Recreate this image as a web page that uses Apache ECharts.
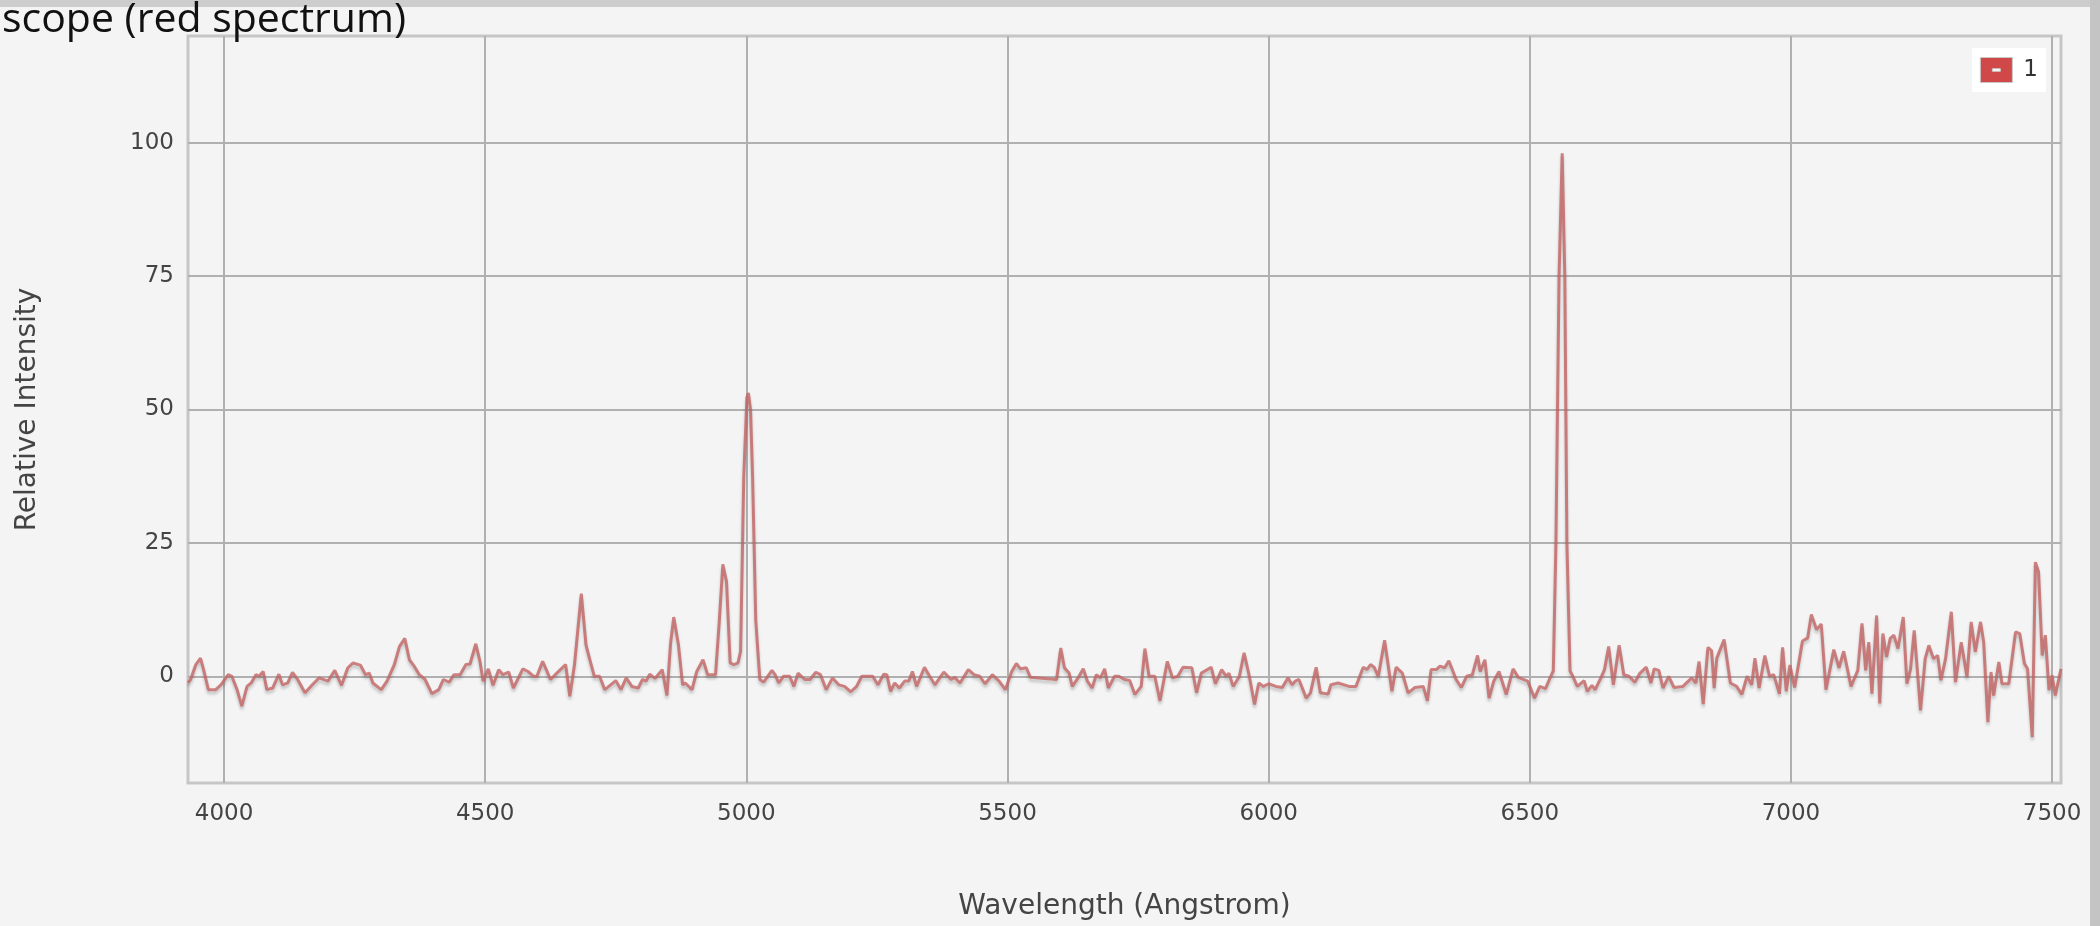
<!DOCTYPE html>
<html>
<head>
<meta charset="utf-8">
<script src="https://cdn.jsdelivr.net/npm/echarts@6/dist/echarts.min.js"></script>
<style>
  html, body { margin: 0; padding: 0; background: #f4f4f4; }
  #chart { width: 2100px; height: 926px; }
</style>
</head>
<body>
<div id="chart"></div>
<script>
// ---- data ----
const titleText = 'scope (red spectrum)';
const seriesName = '1';
const xTicks = [4000, 4500, 5000, 5500, 6000, 6500, 7000, 7500];
const yTicks = [0, 25, 50, 75, 100];
const xRange = [3931, 7517];
const yRange = [-20, 120];

const wavelength = [
  3931, 3936, 3946, 3955, 3961, 3970, 3984, 3994, 4008, 4015, 4025, 4034, 4044, 4052, 4061, 4067, 4075, 4082, 4093, 4105,
  4112, 4122, 4131, 4141, 4155, 4169, 4182, 4199, 4212, 4225, 4237, 4247, 4261, 4271, 4278, 4285, 4301, 4312, 4326, 4336,
  4346, 4355, 4364, 4374, 4385, 4398, 4411, 4420, 4431, 4440, 4452, 4463, 4471, 4482, 4490, 4496, 4506, 4515, 4526, 4534,
  4545, 4554, 4572, 4582, 4593, 4599, 4610, 4617, 4625, 4637, 4654, 4662, 4671, 4684, 4693, 4702, 4709, 4719, 4729, 4750,
  4760, 4770, 4781, 4793, 4801, 4808, 4815, 4825, 4839, 4848, 4855, 4861, 4870, 4878, 4883, 4896, 4905, 4917, 4926, 4941,
  4948, 4955, 4962, 4969, 4976, 4984, 4989, 4995, 5001, 5004, 5008, 5012, 5018, 5024, 5026, 5033,
  5049, 5055, 5062, 5071, 5083, 5091, 5099, 5112, 5122, 5133, 5142, 5153, 5165, 5177, 5188, 5200, 5211, 5221, 5242, 5252,
  5263, 5269, 5276, 5284, 5293, 5303, 5311, 5318, 5326, 5341, 5351, 5361, 5378, 5392, 5399, 5409, 5425, 5436, 5447, 5457,
  5471, 5484, 5496, 5508, 5517, 5525, 5536, 5544, 5594, 5602, 5609, 5618, 5624, 5635, 5645, 5653, 5662, 5670, 5678, 5686,
  5693, 5705, 5713, 5724, 5734, 5744, 5756, 5763, 5771, 5782, 5792, 5806, 5816, 5826, 5836, 5853, 5862, 5871, 5890, 5898,
  5910, 5919, 5924, 5932, 5944, 5953, 5963, 5973, 5981, 5990, 6000, 6014, 6026, 6037, 6045, 6051,
  6058, 6072, 6080, 6091, 6099, 6114, 6119, 6133, 6154, 6167, 6181, 6188, 6195, 6202, 6210, 6222, 6236, 6244, 6256, 6267,
  6280, 6296, 6304, 6311, 6321, 6328, 6337, 6345, 6359, 6369, 6379, 6390, 6400, 6405, 6414, 6422, 6431, 6441, 6455, 6468,
  6478, 6496, 6509, 6519, 6530, 6540, 6545, 6550, 6556, 6562, 6567, 6571, 6577, 6581, 6591, 6604, 6610, 6619, 6625, 6636,
  6643, 6651, 6660, 6671, 6680, 6690, 6701, 6711, 6723, 6732, 6738, 6747, 6755, 6766, 6776, 6793, 6810, 6818, 6824, 6832,
  6841, 6848, 6853, 6858, 6872, 6884, 6896, 6906, 6916, 6925, 6931, 6939, 6950, 6959, 6967, 6978, 6984, 6991, 6998, 7007,
  7022, 7032, 7039, 7049, 7058, 7067, 7082, 7092, 7101, 7115, 7123,
  7128, 7136, 7143, 7149, 7155, 7164, 7170, 7176, 7183, 7190, 7197, 7205, 7215, 7222, 7229, 7236, 7248, 7257, 7264, 7273,
  7281, 7287, 7296, 7307, 7315, 7326, 7337, 7345, 7353, 7363, 7369, 7377, 7383, 7388, 7398, 7404, 7417, 7430, 7438, 7447,
  7453, 7462, 7468, 7474, 7481, 7487, 7494, 7500, 7506, 7517
];

const intensity = [
  -1.2, -0.6, 2.2, 3.4, 1.2, -2.5, -2.5, -1.6, 0.3, 0, -2.5, -5.6, -1.9, -1.25, 0.3, 0, 0.9, -2.5, -2.2, 0.4,
  -1.6, -1.25, 0.75, -0.6, -3.1, -1.6, -0.3, -0.9, 1.1, -1.7, 1.6, 2.5, 2.1, 0.3, 0.6, -1.25, -2.5, -0.9, 2.2, 5.6,
  7.1, 3.1, 1.9, 0.3, -0.6, -3.25, -2.5, -0.6, -1.1, 0.3, 0.3, 2.2, 2.3, 6.1, 2.8, -0.9, 1.4, -1.7, 1.25, 0.3,
  0.8, -2.2, 1.4, 0.9, 0, 0, 2.8, 1.25, -0.6, 0.6, 2.2, -3.75, 2.2, 15.5, 5.9, 2.5, 0, 0, -2.5, -0.8,
  -2.5, -0.3, -1.9, -2.2, -0.6, -0.9, 0.4, -0.4, 1.25, -3.6, 6.25, 11.1, 5.9, -1.6, -1.25, -2.5, 0.9, 3.1, 0.3, 0.3,
  10, 21, 17.8, 2.5, 2.2, 2.5, 4.7, 37.2, 52.2, 53.1, 50, 37.2, 10.6, 1.9, -0.6, -1.1,
  1.1, 0.3, -1.25, 0, 0, -1.9, 0.6, -0.6, -0.6, 0.75, 0.3, -2.5, -0.3, -1.6, -1.9, -2.9, -1.9, 0, 0, -1.6,
  0.4, 0.3, -2.8, -1.25, -2.2, -0.9, -0.9, 0.9, -1.9, 1.7, 0, -1.6, 0.8, -0.6, -0.2, -1.25, 1.25, 0.3, 0, -1.4,
  0.3, -0.9, -2.5, 0.9, 2.4, 1.4, 1.6, -0.2, -0.6, 5.3, 1.6, 0.6, -1.9, -0.3, 1.4, -0.9, -2.2, 0.3, -0.3, 1.4,
  -2.2, 0, 0, -0.6, -0.8, -3.4, -1.9, 5.2, 0, 0, -4.6, 2.8, -0.3, 0, 1.7, 1.6, -3.1, 0.6, 1.7, -1.4,
  1.25, 0, 0.6, -1.9, 0, 4.4, 0, -5.3, -1.25, -1.9, -1.4, -1.9, -2.1, -0.3, -1.6, -0.9,
  -0.6, -4.1, -3.1, 1.7, -3.1, -3.3, -1.6, -1.25, -1.9, -1.9, 1.7, 1.25, 2.2, 1.7, 0, 6.75, -2.8, 1.7, 0.6, -3.1,
  -2.1, -1.9, -4.6, 1.25, 1.25, 1.9, 1.6, 2.9, -0.6, -2.1, 0, 0.3, 3.9, 0.9, 3.1, -4.1, -0.9, 0.9, -3.4, 1.4,
  -0.2, -0.9, -4.1, -1.9, -2.3, 0, 1, 25, 75, 98, 75, 25, 1, 0.3, -1.9, -0.8, -2.8, -1.7, -2.5, -0.3,
  1.25, 5.6, -1.6, 5.8, 0.3, 0, -1.1, 0.6, 1.7, -1.25, 1.4, 1.1, -2.2, 0, -2.1, -1.9, -0.3, -1.25, 2.8, -5.2,
  5.4, 4.8, -2.2, 3.4, 6.9, -1.25, -1.9, -3.4, 0, -1.6, 3.4, -2.2, 3.9, 0, 0.3, -3.3, 5.4, -2.8, 2.1, -2.1,
  6.6, 7.2, 11.6, 8.75, 9.8, -2.5, 5, 1.6, 4.7, -1.9, 0,
  1.1, 9.9, 1.1, 6.4, -3.25, 11.4, -5.1, 8, 3.6, 7.1, 7.7, 5.2, 11.1, -1.4, 1.4, 8.6, -6.4, 3.3, 5.8, 3.3,
  3.9, -0.75, 3.3, 12.1, -1.1, 6.4, -0.1, 10.2, 4.6, 10.2, 6.4, -8.6, 0.8, -3.6, 2.7, -1.4, -1.4, 8.3, 8, 2.4,
  1.4, -11.4, 21.4, 19.6, 3.9, 7.7, -2.6, 0.2, -3.6, 1.4
];

const points = wavelength.map((w, i) => [w, intensity[i]]);

const labelFont = 'DejaVu Sans';
const chart = echarts.init(document.getElementById('chart'), null, { renderer: 'canvas' });

chart.setOption({
  animation: false,
  backgroundColor: '#f4f4f4',
  title: {
    text: titleText,
    left: -3,
    top: -5,
    textStyle: { fontFamily: 'Open Sans', fontSize: 41, fontWeight: 'normal', color: '#111' }
  },
  graphic: [
    { type: 'rect', left: 0, top: 0, z: -1, shape: { width: 2100, height: 7 }, style: { fill: '#cdcdcd' } },
    { type: 'rect', left: 2090, top: 0, z: -1, shape: { width: 10, height: 926 }, style: { fill: '#c4c4c4' } }
  ],
  legend: {
    right: 54,
    top: 48,
    backgroundColor: '#ffffff',
    padding: [9, 8, 9, 8],
    itemWidth: 32,
    itemHeight: 25,
    selectedMode: false,
    data: [{
      name: seriesName,
      icon: 'path://M0,0H32V25H0Z M12,11.2V13.8H20V11.2Z',
      itemStyle: { color: '#d04848', borderColor: '#c8c8c8', borderWidth: 1 }
    }],
    textStyle: { fontFamily: labelFont, fontSize: 23, color: '#333', padding: [0, 0, 0, 6] }
  },
  grid: {
    left: 188,
    right: 39,
    top: 36,
    bottom: 143,
    show: true,
    backgroundColor: 'transparent',
    borderColor: '#c6c6c6',
    borderWidth: 3
  },
  xAxis: {
    type: 'value',
    min: xRange[0],
    max: xRange[1],
    name: 'Wavelength (Angstrom)',
    nameLocation: 'middle',
    nameGap: 110,
    nameTextStyle: { fontFamily: labelFont, fontSize: 28, color: '#444' },
    axisLine: { show: false },
    axisTick: { show: false, customValues: xTicks },
    axisLabel: {
      customValues: xTicks, fontFamily: labelFont, fontSize: 23, color: '#444', margin: 20,
      formatter: (v) => String(v)
    },
    splitLine: { show: true, lineStyle: { color: '#b0b0b0', width: 2 } }
  },
  yAxis: {
    type: 'value',
    min: yRange[0],
    max: yRange[1],
    name: 'Relative Intensity',
    nameLocation: 'middle',
    nameGap: 146,
    nameTextStyle: { fontFamily: labelFont, fontSize: 28, color: '#444' },
    axisLine: { show: false },
    axisTick: { show: false, customValues: yTicks },
    axisLabel: {
      customValues: yTicks, fontFamily: labelFont, fontSize: 23, color: '#444', margin: 14,
      formatter: (v) => String(v)
    },
    splitLine: { show: true, lineStyle: { color: '#b0b0b0', width: 2 } }
  },
  series: [{
    name: seriesName,
    type: 'line',
    data: points,
    showSymbol: false,
    symbol: 'none',
    lineStyle: {
      color: 'rgba(196, 100, 100, 0.8)',
      width: 3,
      shadowColor: 'rgba(0,0,0,0.25)',
      shadowBlur: 3,
      shadowOffsetY: 3
    },
    itemStyle: { color: '#d04848' }
  }]
});
</script>
</body>
</html>
